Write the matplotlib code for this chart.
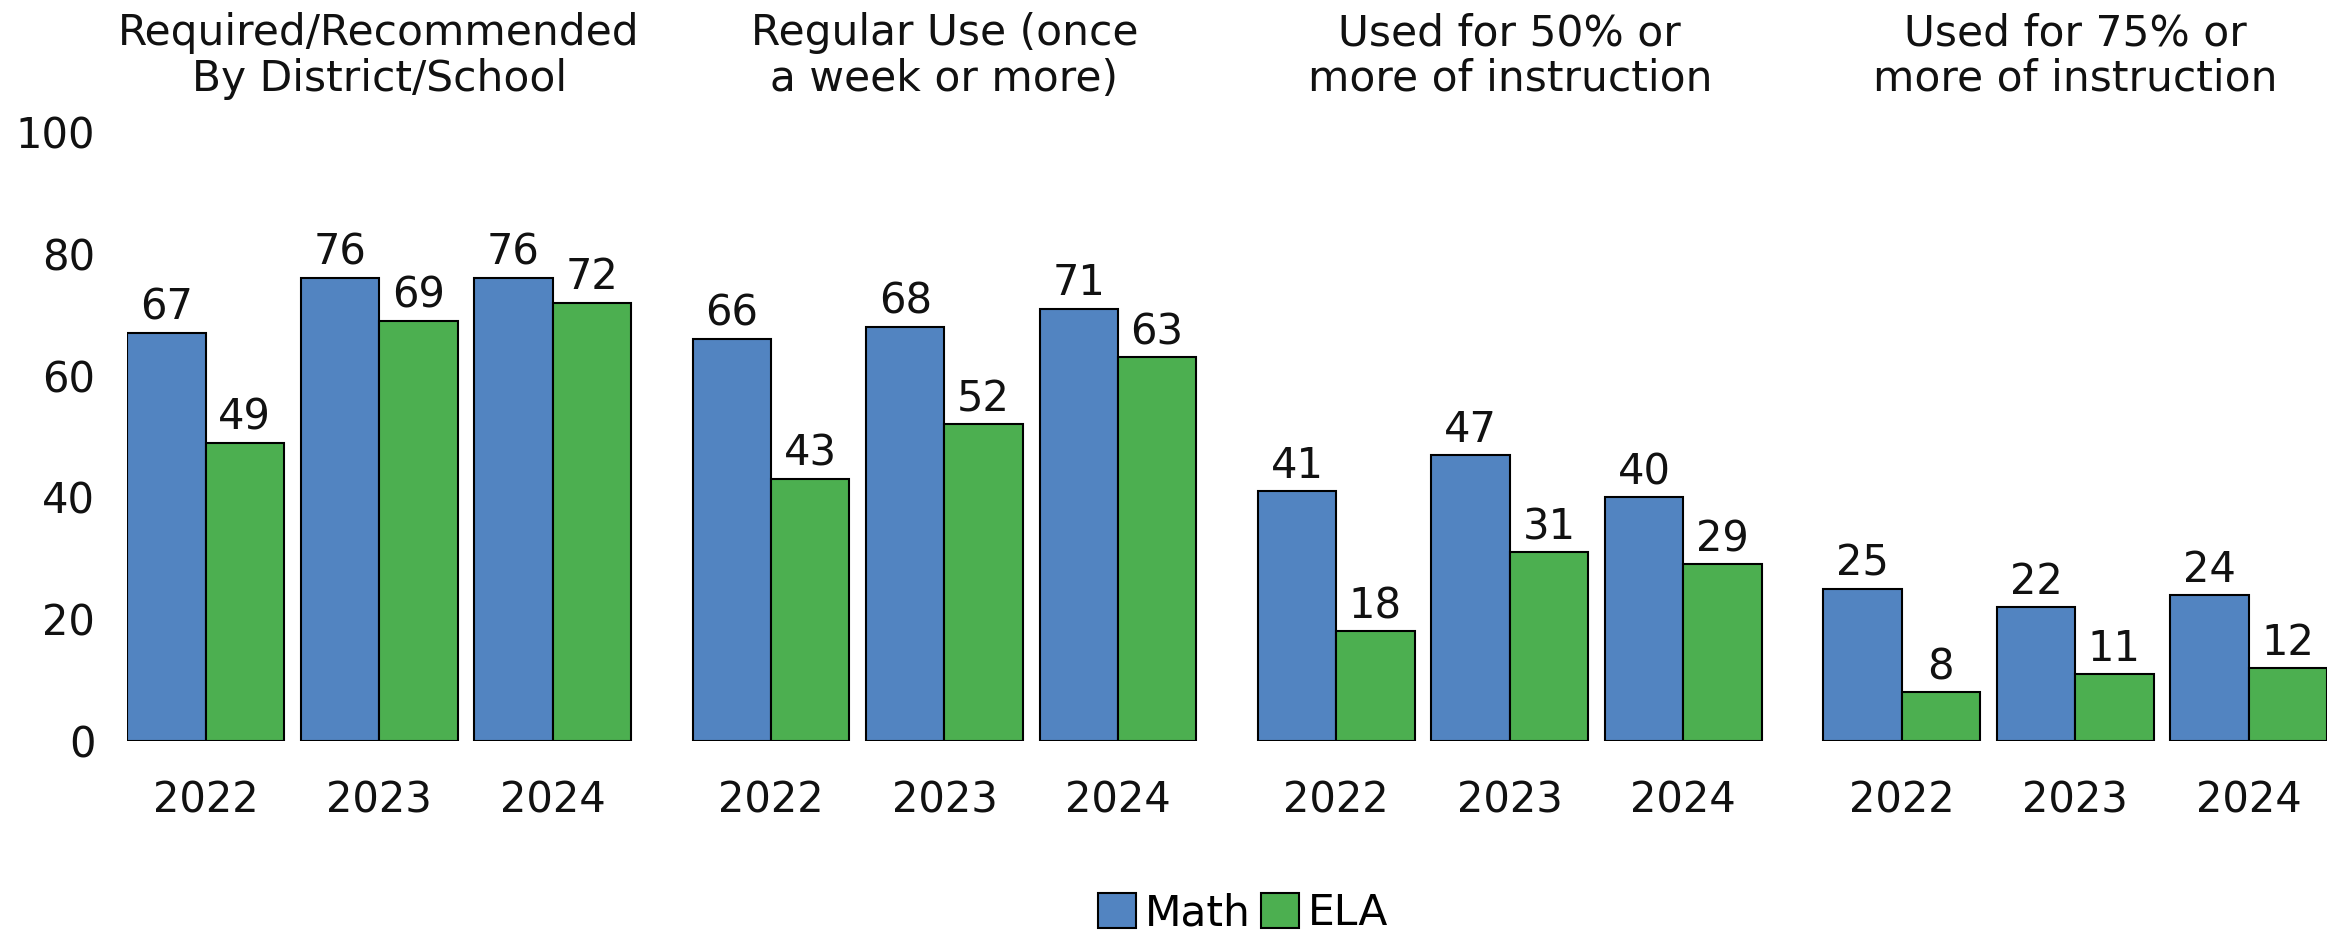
import matplotlib
matplotlib.use("Agg")
import matplotlib.pyplot as plt
import matplotlib.transforms as mtransforms

plt.rcParams['font.family'] = ['DejaVu Sans']

group_titles = ["Required/Recommended\nBy District/School",
                "Regular Use (once\na week or more)",
                "Used for 50% or\nmore of instruction",
                "Used for 75% or\nmore of instruction"]
years = ["2022", "2023", "2024"]
math_vals = [67, 76, 76, 66, 68, 71, 41, 47, 40, 25, 22, 24]
ela_vals = [49, 69, 72, 43, 52, 63, 18, 31, 29, 8, 11, 12]
y_ticks = [0, 20, 40, 60, 80, 100]

math_color = "#5284C1"
ela_color = "#4CAF50"
FS = 30

W, H = 2348, 935
fig = plt.figure(figsize=(W / 100, H / 100), dpi=100)

x_left_px, x_right_px = 127.3, 2327.0
y0_px, y100_px = 741.0, 132.0
ax = fig.add_axes([x_left_px / W, 1 - y0_px / H,
                   (x_right_px - x_left_px) / W, (y0_px - y100_px) / H])

P = 2.214   # pitch between years (bar width = 1)
G = 7.214   # pitch between groups
bw = 1.0

lefts = []
centers = []
for g in range(4):
    for y in range(3):
        l = g * G + y * P
        lefts.append(l)
        centers.append(l + bw)

total = 3 * G + 2 * P + 2 * bw
ax.set_xlim(0, total)
ax.set_ylim(0, 100)

mb = ax.bar(lefts, math_vals, width=bw, align='edge', color=math_color,
            edgecolor='black', linewidth=1.5, label='Math')
eb = ax.bar([l + bw for l in lefts], ela_vals, width=bw, align='edge', color=ela_color,
            edgecolor='black', linewidth=1.5, label='ELA')

for rect, v in zip(list(mb) + list(eb), math_vals + ela_vals):
    ax.annotate(str(v), (rect.get_x() + rect.get_width() / 2, rect.get_height()),
                xytext=(0, 3), textcoords='offset points', ha='center', va='bottom',
                fontsize=FS, color='#111111')

ax.set_xticks(centers)
ax.set_xticklabels(years * 4, fontsize=FS)
ax.set_yticks(y_ticks)
ax.set_yticklabels([str(t) for t in y_ticks], fontsize=FS)
ax.tick_params(axis='x', length=0, pad=28, colors='#111111')
ax.tick_params(axis='y', length=0, pad=23, colors='#111111')
for s in ax.spines.values():
    s.set_visible(False)

trans = mtransforms.blended_transform_factory(ax.transData, fig.transFigure)
for g, t in enumerate(group_titles):
    cx = g * G + P + bw
    ax.text(cx, 1 - 56 / H, t, transform=trans, ha='center', va='center',
            fontsize=FS + 0.5, linespacing=1.12, color='#111111')

leg = fig.legend(handles=[mb, eb], labels=['Math', 'ELA'], loc='center',
                 bbox_to_anchor=(1243 / W, 1 - 913 / H), ncol=2, frameon=False,
                 fontsize=FS + 0.5, handlelength=0.9, handleheight=0.9,
                 handletextpad=0.2, columnspacing=0.25)

fig.savefig("out.png", dpi=100)
